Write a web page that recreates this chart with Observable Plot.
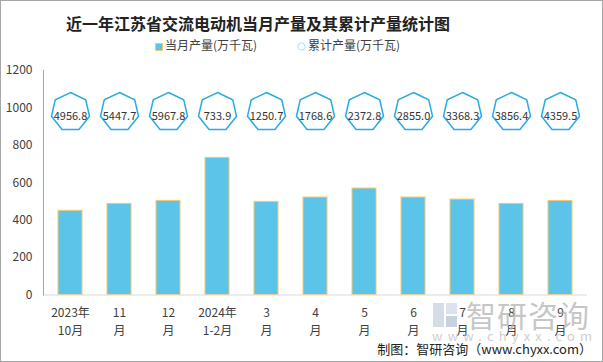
<!DOCTYPE html>
<html><head><meta charset="utf-8">
<script src="https://cdn.jsdelivr.net/npm/d3@7"></script>
<script src="https://cdn.jsdelivr.net/npm/@observablehq/plot@0.6"></script>
<style>
body{margin:0;background:#fff;font-family:"Noto Sans CJK SC","Noto Sans",sans-serif;}
#wrap{position:relative;width:603px;height:362px;overflow:hidden;background:#fff;}
#border{position:absolute;left:0;top:0;width:603px;height:362px;box-sizing:border-box;border:1px solid #a6a6a6;pointer-events:none;z-index:5;}
#title{position:absolute;left:66px;top:10px;text-align:left;font-size:16px;font-weight:bold;color:#222;line-height:26px;white-space:nowrap;}
.leg{position:absolute;top:37px;font-size:12px;color:#404040;line-height:16px;white-space:nowrap;}
.sw{display:inline-block;vertical-align:middle;margin-right:2px;}
#chart{position:absolute;left:0;top:55px;}
#caption{position:absolute;right:11px;top:340px;font-size:13px;color:#222;line-height:18px;white-space:nowrap;}
#wm1{position:absolute;left:466px;top:296px;font-size:30px;color:#b4b4b4;opacity:0.75;line-height:36px;letter-spacing:1px;}
#wm2{position:absolute;left:432px;top:328px;font-size:13px;color:#c4c4c4;opacity:0.8;letter-spacing:5.2px;line-height:16px;}
#logo{position:absolute;left:433px;top:303px;width:24px;height:24px;}
</style></head><body>
<div id="wrap">
  <div id="title">近一年江苏省交流电动机当月产量及其累计产量统计图</div>
  <div class="leg" style="left:155px"><span class="sw" style="width:6px;height:6px;background:#5BC4E8;border:1px solid #F5C96A;"></span>当月产量(万千瓦)</div>
  <div class="leg" style="left:297px"><svg class="sw" width="9" height="9" viewBox="-5 -5 10 10"><polygon points="0,-4.2 3.3,-2.6 4.1,1 1.8,3.8 -1.8,3.8 -4.1,1 -3.3,-2.6" fill="#fff" stroke="#9fd8f0" stroke-width="1"/></svg>累计产量(万千瓦)</div>
  <div id="chart"></div>
  <div id="wm1">智研咨询</div>
  <div id="wm2">www.chyxx.com</div>
  <svg id="logo" viewBox="0 0 24 24"><rect x="0" y="0" width="11" height="24" fill="#c9d3e3" opacity="0.8"/><rect x="13" y="0" width="11" height="11" fill="#d5dce8" opacity="0.8"/><rect x="13" y="13" width="11" height="11" fill="#b8c6dc" opacity="0.8"/></svg>
  <div id="caption">制图：智研咨询（www.chyxx.com）</div>
  <div id="border"></div>
</div>
<script>
const categories = ["2023年\n10月","11\n月","12\n月","2024年\n1-2月","3\n月","4\n月","5\n月","6\n月","7\n月","8\n月","9\n月"];
const monthly = [450, 487, 503, 733, 498, 521, 569, 521, 510, 487, 503];
const cumulative = [4956.8, 5447.7, 5967.8, 733.9, 1250.7, 1768.6, 2372.8, 2855.0, 3368.3, 3856.4, 4359.5];
const yTicks = [0, 200, 400, 600, 800, 1000, 1200];

const rows = categories.map((c, i) => ({cat: c, v: monthly[i], cum: cumulative[i]}));

const heptagon = {
  draw(ctx, size) {
    const R = Math.sqrt(size / Math.PI);
    for (let i = 0; i < 7; i++) {
      const a = -Math.PI / 2 + i * 2 * Math.PI / 7;
      const px = R * Math.cos(a), py = R * Math.sin(a);
      if (i === 0) ctx.moveTo(px, py); else ctx.lineTo(px, py);
    }
    ctx.closePath();
  }
};

const chart = Plot.plot({
  width: 603,
  height: 307,
  marginTop: 15,
  marginBottom: 67.5,
  marginLeft: 43,
  marginRight: 16,
  style: {fontFamily: "'Noto Sans CJK SC','Noto Sans',sans-serif", color: "#404040", background: "transparent"},
  x: {type: "band", domain: categories, paddingInner: 0.51, paddingOuter: 0.255},
  y: {domain: [0, 1200]},
  marks: [
    Plot.barY(rows, {x: "cat", y: "v", fill: "#5BC4E8", stroke: "#F5C96A", strokeWidth: 1}),
    Plot.ruleY([0], {stroke: "#d9d9d9", strokeWidth: 1}),
    Plot.frame({anchor: "left", stroke: "#a6a6a6"}),
    Plot.axisY({ticks: yTicks, tickFormat: d => String(d), tickSize: 0, tickPadding: 11, label: null, fontSize: 12, fill: "#404040"}),
    Plot.axisX({tickSize: 0, tickPadding: 9, label: null, fontSize: 12, lineHeight: 1.5, fill: "#404040"}),
    Plot.dot(rows, {x: "cat", frameAnchor: "top", dy: 41.5, symbol: heptagon, r: 19.5, fill: "#fff", stroke: "#29ABE2", strokeWidth: 1.5}),
    Plot.text(rows, {x: "cat", frameAnchor: "top", dy: 41.5, text: d => d.cum.toFixed(1), fontSize: 11, fill: "#333"})
  ]
});
document.getElementById("chart").appendChild(chart);
</script>
</body></html>
